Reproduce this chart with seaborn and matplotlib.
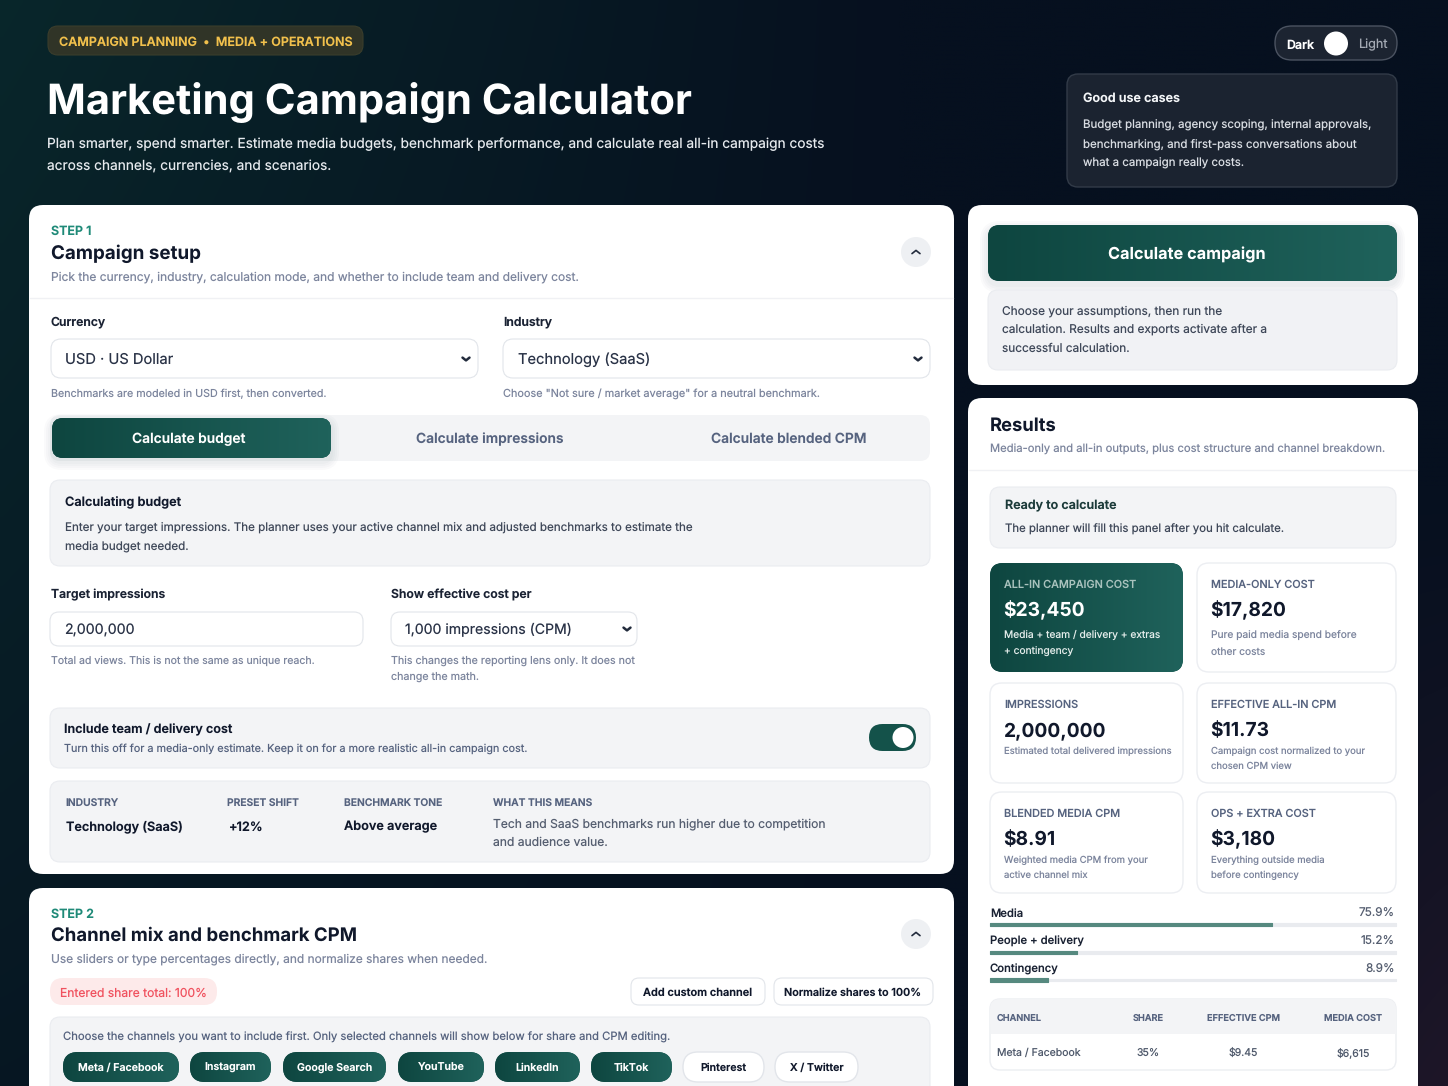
import numpy as np
import pandas as pd
import matplotlib
matplotlib.use("Agg")
import matplotlib.pyplot as plt
from matplotlib.patches import FancyBboxPatch, Circle
from matplotlib.colors import LinearSegmentedColormap
import seaborn as sns

# cost structure - labels show the share, fill is what the bar actually draws
COST_LABELS = ["Media", "People + delivery", "Contingency"]
COST_SHARES = ["75.9%", "15.2%", "8.9%"]
COST_FILL = [69.6, 21.5, 14.3]
COST_TRACK = [100, 100, 100]

# metric cards
METRIC_LABELS = ["ALL-IN CAMPAIGN COST", "MEDIA-ONLY COST", "IMPRESSIONS",
                 "EFFECTIVE ALL-IN CPM", "BLENDED MEDIA CPM", "OPS + EXTRA COST"]
METRIC_VALUES = ["$23,450", "$17,820", "2,000,000", "$11.73", "$8.91", "$3,180"]
METRIC_NOTES = [["Media + team / delivery + extras", "+ contingency"],
                ["Pure paid media spend before", "other costs"],
                ["Estimated total delivered impressions"],
                ["Campaign cost normalized to your", "chosen CPM view"],
                ["Weighted media CPM from your", "active channel mix"],
                ["Everything outside media", "before contingency"]]

# channel table + chips
TABLE_HEAD = ["CHANNEL", "SHARE", "EFFECTIVE CPM", "MEDIA COST"]
TABLE_ROW = ["Meta / Facebook", "35%", "$9.45", "$6,615"]
CHIPS_ON = ["Meta / Facebook", "Instagram", "Google Search", "YouTube", "LinkedIn", "TikTok"]
CHIPS_OFF = ["Pinterest", "X / Twitter"]
TABS = ["Calculate budget", "Calculate impressions", "Calculate blended CPM"]
SUMMARY_HEAD = ["INDUSTRY", "PRESET SHIFT", "BENCHMARK TONE", "WHAT THIS MEANS"]
SUMMARY_VALS = ["Technology (SaaS)", "+12%", "Above average"]

# colors
INK = "#10182b"
LABEL = "#1a2233"
MUTED = "#7c859d"
BODY = "#3f4859"
SLATE = "#56637f"
PANEL = "#f3f4f6"
EDGE = "#eaecf0"
LINE = "#e2e5ea"
TEAL = LinearSegmentedColormap.from_list("teal", ["#0e4640", "#1f625b"])

W, H = 1448, 1086

sns.set_theme(style="white")
plt.rcParams["font.family"] = ["Inter", "DejaVu Sans"]
plt.rcParams["text.hinting"] = "no_hinting"
plt.rcParams["text.hinting_factor"] = 1

fig = plt.figure(figsize=(W / 100, H / 100), dpi=100)
ax = fig.add_axes([0, 0, 1, 1])
ax.set_axis_off()


def txt(x, y, s, px, color=INK, weight="normal", ha="left"):
    # y is the baseline, size in screen pixels
    return ax.text(x, y, s, fontsize=px * 0.72, color=color, fontweight=weight,
                   ha=ha, va="baseline", zorder=10)


def box(x0, y0, x1, y1, r=10, fc="white", ec="none", lw=0.8, z=2, alpha=None):
    p = FancyBboxPatch((x0, y0), x1 - x0, y1 - y0, boxstyle=f"round,pad=0,rounding_size={r}",
                       fc=fc, ec=ec, lw=lw, zorder=z, alpha=alpha)
    ax.add_patch(p)
    return p


def teal_box(x0, y0, x1, y1, r=10, z=3):
    p = box(x0, y0, x1, y1, r=r, fc="#14524a", z=z)
    grad = np.linspace(0, 1, 64).reshape(1, -1)
    im = ax.imshow(grad, extent=(x0, x1, y1, y0), cmap=TEAL, aspect="auto", zorder=z + 0.1,
                   interpolation="bilinear")
    im.set_clip_path(p)


def shadow(x0, y0, x1, y1, r=10, z=2.5, spread=8, color="#1a2a33"):
    for i in range(spread, 0, -2):
        box(x0 - i, y0 - i + 4, x1 + i, y1 + i + 4, r=r + i, fc=color, z=z, alpha=0.018)


def chevron(cx, cy, up=False, size=4, lw=1.2, color="#222b3c"):
    d = -size * 0.8 if up else size * 0.8
    ax.plot([cx - size, cx, cx + size], [cy - d / 2, cy + d / 2, cy - d / 2], color=color, lw=lw,
            solid_capstyle="round", solid_joinstyle="round", zorder=11)


# page background - teal glow on the left, navy to the right, slight plum bottom right
yy, xx = np.mgrid[0:1:200j, 0:1:260j]
teal_amt = np.clip(1 - xx / 0.62, 0, 1) * 0.9 * np.clip(1 - yy * 0.7, 0, 1)
plum_amt = np.clip((xx - 0.7) / 0.3, 0, 1) * np.clip((yy - 0.45) / 0.55, 0, 1)
navy = np.array([6, 16, 31]) / 255
teal_c = np.array([9, 41, 44]) / 255
plum = np.array([30, 22, 40]) / 255
bg = navy[None, None, :] * (1 - teal_amt[..., None]) + teal_c[None, None, :] * teal_amt[..., None]
bg = bg * (1 - plum_amt[..., None]) + plum[None, None, :] * plum_amt[..., None]
ax.imshow(bg, extent=(0, W, H, 0), aspect="auto", zorder=0, interpolation="bilinear")

# header
box(48, 26, 363, 55, r=10, fc="#303427", ec="#3a3d2c")
txt(59, 45.5, "CAMPAIGN PLANNING  •  MEDIA + OPERATIONS", 12.5, "#f1c04c", "semibold")
txt(47, 114, "Marketing Campaign Calculator", 41.7, "white", "bold")
txt(47, 148.5, "Plan smarter, spend smarter. Estimate media budgets, benchmark performance, and calculate real all-in campaign costs", 13.7, "#e6eaee")
txt(47, 170, "across channels, currencies, and scenarios.", 13.7, "#e6eaee")

box(1275, 26, 1397, 60, r=17, fc="#1c2431", ec="#4b5361", lw=1.0)
txt(1286, 48.5, "Dark", 12.4, "white", "semibold")
ax.add_patch(Circle((1336, 43.5), 12, fc="white", ec="none", zorder=4))
txt(1358, 48.5, "Light", 12.6, "#a4aab4")

box(1067, 74, 1397, 187, r=11, fc="#1b2330", ec="#323b48", lw=1.0)
txt(1083, 102, "Good use cases", 12.6, "#f4f6f8", "semibold")
for y, s in zip([128.5, 147.5, 166.5], ["Budget planning, agency scoping, internal approvals,",
                                        "benchmarking, and first-pass conversations about",
                                        "what a campaign really costs."]):
    txt(1083, y, s, 11.5, "#d8dce2")

# step 1 card
box(29, 205, 954, 874, r=14)
ax.plot([30, 953], [298, 298], color="#f0f1f4", lw=1, zorder=3)
txt(51, 235, "STEP 1", 12.5, "#1f8a78", "semibold")
txt(51, 258.5, "Campaign setup", 18.8, INK, "bold")
txt(51, 280.5, "Pick the currency, industry, calculation mode, and whether to include team and delivery cost.", 12, MUTED)
ax.add_patch(Circle((916, 252), 15, fc="#eef0f3", ec="none", zorder=3))
chevron(916, 252, up=True)

txt(51, 325, "Currency", 12.2, LABEL, "semibold")
txt(503, 325, "Industry", 12.2, LABEL, "semibold")
box(51, 339, 478, 378, r=10, ec=LINE, z=3)
box(503, 339, 930, 378, r=10, ec=LINE, z=3)
txt(65, 364, "USD · US Dollar", 14.7, "#2a3347")
txt(518, 364, "Technology (SaaS)", 14.7, "#2a3347")
chevron(466, 359, lw=1.8, size=3.5)
chevron(918, 359, lw=1.8, size=3.5)
txt(51, 397, "Benchmarks are modeled in USD first, then converted.", 10.7, MUTED)
txt(503, 397, "Choose \"Not sure / market average\" for a neutral benchmark.", 10.9, MUTED)

box(50, 415, 930, 461, r=10, fc=PANEL, z=3)
shadow(52, 418, 331, 458, z=3.2)
teal_box(52, 418, 331, 458, r=11, z=4)
txt(189, 443, TABS[0], 13.8, "white", "semibold", "center")
txt(490, 443, TABS[1], 13.8, SLATE, "semibold", "center")
txt(789, 443, TABS[2], 13.8, SLATE, "semibold", "center")

box(50, 480, 930, 566, r=10, fc=PANEL, ec=EDGE, z=3)
txt(65, 506.5, "Calculating budget", 12.7, INK, "semibold")
txt(65, 530, "Enter your target impressions. The planner uses your active channel mix and adjusted benchmarks to estimate the", 11.65, BODY)
txt(65, 549, "media budget needed.", 11.65, BODY)

txt(51, 598.5, "Target impressions", 12.2, LABEL, "semibold")
txt(391, 598.5, "Show effective cost per", 12.2, LABEL, "semibold")
box(50, 612, 363, 646, r=9, ec=LINE, z=3)
box(391, 612, 637, 646, r=9, ec=LINE, z=3)
txt(64, 634.5, "2,000,000", 14.2, "#2a3347")
txt(405, 634.5, "1,000 impressions (CPM)", 14.1, "#2a3347")
chevron(627, 629, lw=1.8, size=3.5)
txt(51, 663.5, "Total ad views. This is not the same as unique reach.", 10.55, MUTED)
txt(391, 663.5, "This changes the reporting lens only. It does not", 10.7, MUTED)
txt(391, 680, "change the math.", 10.7, MUTED)

box(50, 708, 930, 768, r=10, fc=PANEL, ec=EDGE, z=3)
txt(64, 733.5, "Include team / delivery cost", 12.6, INK, "semibold")
txt(64, 752, "Turn this off for a media-only estimate. Keep it on for a more realistic all-in campaign cost.", 10.85, SLATE)
box(869, 724, 916, 751, r=13.5, fc="#14524a", z=4)
ax.add_patch(Circle((903, 737.5), 10.5, fc="white", ec="none", zorder=5))

box(50, 781, 930, 862, r=10, fc=PANEL, ec=EDGE, z=3)
for x, s in zip([65, 227, 344, 493], SUMMARY_HEAD):
    txt(x, 806, s, 10.3, SLATE, "semibold")
for x, s in zip([66, 229, 344], SUMMARY_VALS):
    txt(x, 830.5, s, 12.7, INK, "semibold")
txt(493, 827, "Tech and SaaS benchmarks run higher due to competition", 12.1, "#555e70")
txt(493, 845.5, "and audience value.", 12.1, "#555e70")

# step 2 card, runs off the bottom of the page
box(29, 888, 954, H + 40, r=14)
txt(51, 917.5, "STEP 2", 12.5, "#1f8a78", "semibold")
txt(51, 940.5, "Channel mix and benchmark CPM", 18.6, INK, "bold")
txt(51, 962.5, "Use sliders or type percentages directly, and normalize shares when needed.", 11.95, MUTED)
ax.add_patch(Circle((916, 934), 15, fc="#eef0f3", ec="none", zorder=3))
chevron(916, 934, up=True)
box(50, 978, 217, 1005, r=13, fc="#fdeaea", z=3)
txt(60, 996.5, "Entered share total: 100%", 12.1, "#f0525f")
box(631, 978, 765, 1005, r=8, ec=LINE, z=3)
box(774, 978, 933, 1005, r=8, ec=LINE, z=3)
txt(698, 995.5, "Add custom channel", 11, INK, "semibold", "center")
txt(853, 995.5, "Normalize shares to 100%", 10.85, INK, "semibold", "center")
box(50, 1017, 930, H + 30, r=10, fc=PANEL, ec=EDGE, z=3)
txt(63, 1041, "Choose the channels you want to include first. Only selected channels will show below for share and CPM editing.", 11.28, SLATE)
for (x0, x1), s in zip([(63, 179), (190, 271), (283, 386), (398, 484), (495, 580), (591, 672)], CHIPS_ON):
    teal_box(x0, 1052, x1, 1082, r=15, z=4)
    txt((x0 + x1) / 2, 1071, s, 10.6, "white", "semibold", "center")
for (x0, x1), s in zip([(683, 764), (775, 858)], CHIPS_OFF):
    box(x0, 1052, x1, 1082, r=15, ec=LINE, lw=1.0, z=4)
    txt((x0 + x1) / 2, 1071, s, 10.6, INK, "semibold", "center")

# right column, action card
box(968, 205, 1418, 385, r=14)
shadow(988, 225, 1397, 281, r=12, z=3)
teal_box(988, 225, 1397, 281, r=12, z=4)
txt(1187, 259.5, "Calculate campaign", 16.3, "white", "bold", "center")
box(988, 290, 1397, 370, r=10, fc="#f1f2f5", ec=EDGE, z=3.5)
for y, s in zip([314.5, 332.5, 351.5], ["Choose your assumptions, then run the",
                                        "calculation. Results and exports activate after a",
                                        "successful calculation."]):
    txt(1002, y, s, 11.85, BODY)

# results card
box(968, 398, 1418, H + 40, r=14)
txt(990, 431, "Results", 18.4, INK, "bold")
txt(990, 452.5, "Media-only and all-in outputs, plus cost structure and channel breakdown.", 11.24, MUTED)
ax.plot([969, 1417], [470, 470], color="#f0f1f4", lw=1, zorder=3)
box(990, 487, 1396, 548, r=10, fc=PANEL, ec=EDGE, z=3)
txt(1005, 509.5, "Ready to calculate", 12.55, "#1c3b3a", "semibold")
txt(1005, 533, "The planner will fill this panel after you hit calculate.", 11.4, BODY)

# metric cards, two columns
card_x = [(990, 1183), (1197, 1396)]
card_y = [(563, 672), (683, 783), (792, 893)]
for i, (lab, val, notes) in enumerate(zip(METRIC_LABELS, METRIC_VALUES, METRIC_NOTES)):
    x0, x1 = card_x[i % 2]
    y0, y1 = card_y[i // 2]
    dark = i == 0
    if dark:
        teal_box(x0, y0, x1, y1, r=13, z=3)
    else:
        box(x0, y0, x1, y1, r=12, ec="#eceef2", lw=1.0, z=3)
    tx = x0 + 14
    txt(tx, y0 + 25, lab, 10.9, "#a9c2bd" if dark else SLATE, "medium")
    txt(tx - 0.5, y0 + 53.5, val, 19.2, "white" if dark else INK, "bold")
    for k, n in enumerate(notes):
        step = 17 if i < 2 else 15
        first = 74.5 if i < 2 else 71
        txt(tx, y0 + first + k * step, n, 10.2 if i < 2 else 9.5, "#e3ecea" if dark else MUTED)

# cost structure labels
for y, lab, share in zip([916.5, 944.5, 972.5], COST_LABELS, COST_SHARES):
    txt(990, y, lab, 11.3, LABEL, "medium")
    txt(1395, y, share, 11.8, "#555e70", ha="right")

# progress bars, one row per category on their own axes
cost = pd.DataFrame({"label": COST_LABELS, "track": COST_TRACK, "fill": COST_FILL})
bar_ax = fig.add_axes([990 / W, 1 - 994 / H, 405.5 / W, 83.4 / H])
sns.barplot(data=cost, x="track", y="label", orient="h", color="#e9ebef", width=0.1, saturation=1, ax=bar_ax)
sns.barplot(data=cost, x="fill", y="label", orient="h", color="#56897f", width=0.12, saturation=1, ax=bar_ax)
bar_ax.set_xlim(0, 100)
bar_ax.set_axis_off()
# rounded ends on the bars
for bar in bar_ax.patches:
    bar.set_edgecolor(bar.get_facecolor())
    bar.set_linewidth(0.8)
    bar.set_joinstyle("round")
    bar.set_clip_on(False)

# channel table
box(990, 999, 1396, 1070, r=10, ec="#eceef2", lw=1.0, z=3)
head = box(990, 999, 1396, 1034, r=10, fc=PANEL, z=3.2)
ax.add_patch(plt.Rectangle((990.5, 1020), 405, 14, fc=PANEL, ec="none", zorder=3.2))
for (x, ha), h, r in zip([(997, "left"), (1148, "center"), (1243.5, "center"), (1353.5, "center")], TABLE_HEAD, TABLE_ROW):
    txt(x, 1020.5, h, 9.2, SLATE, "semibold", ha)
    txt(x, 1056, r, 10.5, "#505a6c", ha=ha)

ax.set_xlim(0, W)
ax.set_ylim(H, 0)

fig.savefig("out.png", dpi=100)
